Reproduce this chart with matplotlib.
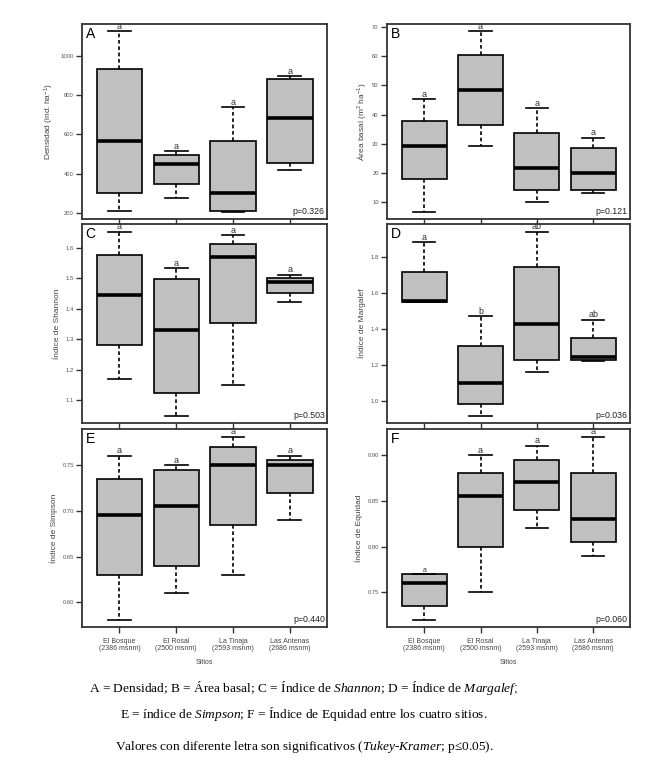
import numpy as np
import matplotlib
matplotlib.use('Agg')
import matplotlib.pyplot as plt

plt.rcParams['font.family'] = ['Liberation Sans', 'DejaVu Sans']
plt.rcParams['mathtext.fontset'] = 'custom'
plt.rcParams['mathtext.rm'] = 'Liberation Sans'
plt.rcParams['mathtext.it'] = 'Liberation Serif:italic'

sites = ['El Bosque\n(2386 msnm)', 'El Rosal\n(2500 msnm)',
         'La Tinaja\n(2593 msnm)', 'Las Antenas\n(2686 msnm)']

# each panel: lower whisker, q1, median, q3, upper whisker (one per site)
dens_low = [207, 275, 205, 418]
dens_q1 = [303, 345, 207, 455]
dens_med = [568, 448, 303, 682]
dens_q3 = [932, 495, 568, 883]
dens_high = [1125, 515, 737, 897]

area_low = [6.7, 29.1, 10.0, 13.0]
area_q1 = [17.8, 36.5, 14.3, 14.2]
area_med = [29.3, 48.4, 21.8, 20.1]
area_q3 = [37.8, 60.6, 33.8, 28.5]
area_high = [45.3, 68.5, 42.2, 32.1]

shan_low = [1.169, 1.049, 1.149, 1.421]
shan_q1 = [1.280, 1.124, 1.352, 1.452]
shan_med = [1.446, 1.330, 1.568, 1.487]
shan_q3 = [1.576, 1.496, 1.611, 1.501]
shan_high = [1.652, 1.532, 1.641, 1.511]

marg_low = [1.548, 0.918, 1.161, 1.219]
marg_q1 = [1.550, 0.983, 1.230, 1.230]
marg_med = [1.555, 1.100, 1.425, 1.245]
marg_q3 = [1.718, 1.306, 1.744, 1.349]
marg_high = [1.880, 1.470, 1.939, 1.451]

simp_low = [0.581, 0.610, 0.630, 0.690]
simp_q1 = [0.630, 0.640, 0.685, 0.720]
simp_med = [0.695, 0.705, 0.750, 0.750]
simp_q3 = [0.735, 0.745, 0.770, 0.755]
simp_high = [0.760, 0.750, 0.781, 0.760]

equi_low = [0.720, 0.750, 0.820, 0.790]
equi_q1 = [0.735, 0.800, 0.840, 0.805]
equi_med = [0.760, 0.855, 0.870, 0.830]
equi_q3 = [0.770, 0.880, 0.895, 0.880]
equi_high = [0.770, 0.900, 0.910, 0.920]

panels = [
    ('A', 'Densidad (ind. ha$^{-1}$)', [dens_low, dens_q1, dens_med, dens_q3, dens_high],
     ['a', 'a', 'a', 'a'], 'p=0.326', [200, 400, 600, 800, 1000], '%d'),
    ('B', 'Área basal (m$^{2}$ ha$^{-1}$)', [area_low, area_q1, area_med, area_q3, area_high],
     ['a', 'a', 'a', 'a'], 'p=0.121', [10, 20, 30, 40, 50, 60, 70], '%d'),
    ('C', 'Índice de Shannon', [shan_low, shan_q1, shan_med, shan_q3, shan_high],
     ['a', 'a', 'a', 'a'], 'p=0.503', [1.1, 1.2, 1.3, 1.4, 1.5, 1.6], '%.1f'),
    ('D', 'Índice de Margalef', [marg_low, marg_q1, marg_med, marg_q3, marg_high],
     ['a', 'b', 'ab', 'ab'], 'p=0.036', [1.0, 1.2, 1.4, 1.6, 1.8], '%.1f'),
    ('E', 'Índice de Simpson', [simp_low, simp_q1, simp_med, simp_q3, simp_high],
     ['a', 'a', 'a', 'a'], 'p=0.440', [0.60, 0.65, 0.70, 0.75], '%.2f'),
    ('F', 'Índice de Equidad', [equi_low, equi_q1, equi_med, equi_q3, equi_high],
     ['a', 'a', 'a', 'a'], 'p=0.060', [0.75, 0.80, 0.85, 0.90], '%.2f'),
]

fig = plt.figure(figsize=(6.72, 7.82), dpi=100)

col_x = [0.122, 0.576]
col_w = [0.365, 0.362]
row_y = [0.720, 0.459, 0.198]
row_h = [0.249, 0.254, 0.253]

edge = '#333333'
for i, (tag, ylab, st, letters, ptxt, yt, fmt) in enumerate(panels):
    r, c = divmod(i, 2)
    ax = fig.add_axes([col_x[c], row_y[r], col_w[c], row_h[r]])
    lo, q1, med, q3, hi = st
    stats = [dict(whislo=lo[k], q1=q1[k], med=med[k], q3=q3[k], whishi=hi[k], fliers=[])
             for k in range(4)]
    ax.bxp(stats, positions=[1, 2, 3, 4], widths=0.8, patch_artist=True,
           boxprops=dict(facecolor='#c0c0c0', edgecolor='black', linewidth=1.2),
           medianprops=dict(color='black', linewidth=2.6, solid_capstyle='butt'),
           whiskerprops=dict(color='black', linewidth=1.2, linestyle=(0, (2.2, 1.6))),
           capprops=dict(color='black', linewidth=1.2), capwidths=0.4)
    ymin, ymax = min(lo), max(hi)
    pad = (ymax - ymin) * 0.04
    ax.set_ylim(ymin - pad, ymax + pad)
    ax.set_xlim(0.34, 4.66)
    for k in range(4):
        fs = 5 if (tag == 'F' and k == 0) else 6.5
        ax.annotate(letters[k], (k + 1, hi[k]), xytext=(0, 0.3), textcoords='offset points',
                    ha='center', va='bottom', fontsize=fs, color='#333333')
    ax.text(0.015, 0.985, tag, transform=ax.transAxes, ha='left', va='top', fontsize=10)
    ax.text(0.99, 0.015, ptxt, transform=ax.transAxes, ha='right', va='bottom', fontsize=6.3,
            color='#222222')
    ax.set_yticks(yt)
    ax.set_yticklabels([fmt % v for v in yt])
    ax.set_xticks([1, 2, 3, 4])
    if r == 2:
        ax.set_xticklabels(sites, fontsize=5, color='#444444', linespacing=1.0)
        ax.set_xlabel('Sitios', fontsize=5, color='#444444', labelpad=5)
    else:
        ax.set_xticklabels([])
    ax.tick_params(axis='both', direction='out', length=4.5, width=1.0, color=edge)
    ax.tick_params(axis='y', labelsize=4.2, labelcolor='#555555', pad=1.5)
    ax.tick_params(axis='x', pad=3)
    ax.set_ylabel(ylab, fontsize=6, color='#444444', labelpad=3)
    for s in ax.spines.values():
        s.set_color(edge)
        s.set_linewidth(1.3)

cap_x = 304 / 672
cap = {'fontsize': 9.6, 'family': 'Liberation Serif', 'ha': 'center', 'va': 'center'}
fig.text(cap_x, 1 - 688 / 782,
         r'A = Densidad; B = Área basal; C = Índice de $\mathit{Shannon}$; '
         r'D = Índice de $\mathit{Margalef;}$', **cap)
fig.text(cap_x, 1 - 714 / 782,
         r'E = índice de $\mathit{Simpson}$; F = Índice de Equidad entre los cuatro sitios.',
         **cap)
fig.text(cap_x, 1 - 747 / 782,
         r'Valores con diferente letra son significativos ($\mathit{Tukey}$-$\mathit{Kramer}$; p≤0.05).',
         **cap)

fig.savefig('out.png', dpi=100)
